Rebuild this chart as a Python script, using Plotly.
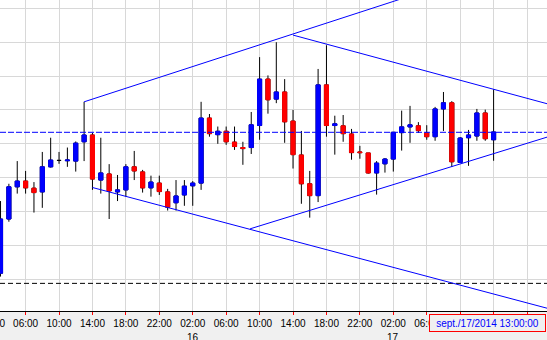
import plotly.graph_objects as go

# ---- data (hourly bars, 2014-09-15 03:00 .. 2014-09-17 14:00) ----
opens = [1.28818, 1.28978, 1.29073, 1.29090, 1.29069, 1.29058, 1.29132, 1.29151, 1.29150, 1.29149,
         1.29206, 1.29226, 1.29093, 1.29111, 1.29058, 1.29064, 1.29132, 1.29117, 1.29070, 1.29084,
         1.29058, 1.29026, 1.29049, 1.29076, 1.29084, 1.29276, 1.29227, 1.29237, 1.29205, 1.29189,
         1.29189, 1.29254, 1.29391, 1.29332, 1.29353, 1.29267, 1.29167, 1.29082, 1.29047, 1.29374,
         1.29254, 1.29253, 1.29229, 1.29176, 1.29173, 1.29114, 1.29141, 1.29155, 1.29233, 1.29250,
         1.29253, 1.29232, 1.29221, 1.29303, 1.29321, 1.29145, 1.29218, 1.29223, 1.29291, 1.29212]
highs = [1.29031, 1.29082, 1.29149, 1.29120, 1.29087, 1.29176, 1.29218, 1.29176, 1.29189, 1.29207,
         1.29324, 1.29232, 1.29218, 1.29140, 1.29108, 1.29140, 1.29179, 1.29123, 1.29106, 1.29106,
         1.29067, 1.29093, 1.29093, 1.29090, 1.29324, 1.29288, 1.29251, 1.29251, 1.29251, 1.29206,
         1.29294, 1.29456, 1.29402, 1.29500, 1.29391, 1.29300, 1.29238, 1.29120, 1.29421, 1.29491,
         1.29283, 1.29285, 1.29244, 1.29194, 1.29173, 1.29149, 1.29158, 1.29234, 1.29298, 1.29312,
         1.29264, 1.29255, 1.29309, 1.29353, 1.29326, 1.29220, 1.29241, 1.29303, 1.29301, 1.29361]
lows = [1.28808, 1.28970, 1.29053, 1.29053, 1.28997, 1.29011, 1.29130, 1.29141, 1.29132, 1.29118,
        1.29149, 1.29064, 1.29053, 1.28978, 1.29031, 1.29044, 1.29093, 1.29056, 1.29044, 1.29049,
        1.29003, 1.29003, 1.29017, 1.29017, 1.29064, 1.29221, 1.29200, 1.29197, 1.29182, 1.29138,
        1.29170, 1.29212, 1.29289, 1.29320, 1.29203, 1.29127, 1.29023, 1.28982, 1.29028, 1.29221,
        1.29168, 1.29206, 1.29153, 1.29156, 1.29112, 1.29050, 1.29115, 1.29118, 1.29180, 1.29203,
        1.29232, 1.29212, 1.29209, 1.29238, 1.29132, 1.29143, 1.29135, 1.29209, 1.29209, 1.29150]
closes = [1.28978, 1.29073, 1.29090, 1.29070, 1.29056, 1.29132, 1.29152, 1.29151, 1.29152, 1.29202,
          1.29226, 1.29096, 1.29114, 1.29061, 1.29064, 1.29132, 1.29120, 1.29070, 1.29087, 1.29059,
          1.29013, 1.29046, 1.29075, 1.29084, 1.29276, 1.29230, 1.29237, 1.29206, 1.29192, 1.29186,
          1.29256, 1.29391, 1.29330, 1.29353, 1.29265, 1.29168, 1.29082, 1.29047, 1.29374, 1.29254,
          1.29259, 1.29230, 1.29174, 1.29174, 1.29114, 1.29143, 1.29155, 1.29234, 1.29250, 1.29256,
          1.29239, 1.29221, 1.29303, 1.29321, 1.29147, 1.29217, 1.29226, 1.29291, 1.29215, 1.29235]

# tick positions (bar index); labels under the time cursor box are hidden in the original
tick_bars = [3, 7, 11, 15, 19, 23, 27, 31, 35, 39, 43, 47, 51, 55, 59, 63]
tick_labels = ["06:00", "10:00", "14:00", "18:00", "22:00", "02:00", "06:00", "10:00",
               "14:00", "18:00", "22:00", "02:00", "06:00", "", "", ""]
day_bars = [23, 47]
day_labels = ["16", "17"]
cursor_label = "sept./17/2014 13:00:00"

# trend lines: two anchors (bar, price), drawn as rays to the right
trend_lines = [
    ((10, 1.29324), (34.84, 1.29523)),
    ((35, 1.29521), (59, 1.29361)),
    ((11, 1.29071), (60, 1.28750)),
    ((29.86, 1.28949), (59, 1.29171)),
]
bid_level = 1.29234
low_level = 1.28788

BLUE = "#0000FF"
RED = "#FF0000"
GRID = "#d8d8d8"

x = list(range(len(opens)))
X_MIN, X_MAX = -0.063, 65.39
Y_MIN, Y_MAX = 1.287064, 1.296246

fig = go.Figure()

# wicks (black)
fig.add_trace(go.Candlestick(
    x=x, open=opens, high=highs, low=lows, close=closes,
    increasing=dict(line=dict(color="black", width=1), fillcolor="black"),
    decreasing=dict(line=dict(color="black", width=1), fillcolor="black"),
    whiskerwidth=0, hoverinfo="skip", showlegend=False))

# coloured bodies (skip exact dojis, which stay black)
bx, bo, bh, bl, bc = [], [], [], [], []
for i in x:
    if opens[i] != closes[i]:
        bx.append(i)
        bo.append(opens[i])
        bc.append(closes[i])
        bh.append(max(opens[i], closes[i]))
        bl.append(min(opens[i], closes[i]))
fig.add_trace(go.Candlestick(
    x=bx, open=bo, high=bh, low=bl, close=bc,
    increasing=dict(line=dict(color=BLUE, width=1), fillcolor=BLUE),
    decreasing=dict(line=dict(color=RED, width=1), fillcolor=RED),
    whiskerwidth=0, hoverinfo="skip", showlegend=False))

# horizontal levels
fig.add_trace(go.Scatter(x=[X_MIN, X_MAX], y=[bid_level, bid_level], mode="lines",
                         line=dict(color=BLUE, width=1, dash="6px,2px"),
                         hoverinfo="skip", showlegend=False))
fig.add_trace(go.Scatter(x=[X_MIN, X_MAX], y=[low_level, low_level], mode="lines",
                         line=dict(color="black", width=1, dash="5px,3px"),
                         hoverinfo="skip", showlegend=False))

# trend lines
for (x1, y1), (x2, y2) in trend_lines:
    slope = (y2 - y1) / (x2 - x1)
    xe = X_MAX + 1
    fig.add_trace(go.Scatter(x=[x1, xe], y=[y1, y1 + slope * (xe - x1)], mode="lines",
                             line=dict(color=BLUE, width=1),
                             hoverinfo="skip", showlegend=False))

annotations = []
for b, lab in zip(day_bars, day_labels):
    annotations.append(dict(x=b, y=-0.086, xref="x", yref="paper", text=lab, showarrow=False,
                            font=dict(family="Liberation Sans", size=10, color="black"),
                            xanchor="center", yanchor="middle"))
annotations.append(dict(x=-8 / 547, y=-0.04, xref="paper", yref="paper", text="02:00",
                        showarrow=False, xanchor="center", yanchor="middle",
                        font=dict(family="Liberation Sans", size=10, color="black")))
annotations.append(dict(x=487.5 / 547, y=-0.0386, xref="paper", yref="paper", text=cursor_label,
                        showarrow=False, xanchor="center", yanchor="middle",
                        width=113, height=14, borderpad=1, borderwidth=1,
                        bordercolor=RED, bgcolor="#f0f0f0",
                        font=dict(family="Liberation Sans", size=10, color=BLUE)))

fig.update_layout(
    width=547, height=340,
    margin=dict(l=0, r=0, t=0, b=29, pad=0),
    paper_bgcolor="#f0f0f0", plot_bgcolor="white",
    showlegend=False,
    boxgap=0.3, boxgroupgap=0.3,
    annotations=annotations,
    xaxis=dict(range=[X_MIN, X_MAX], rangeslider=dict(visible=False),
               tickmode="array", tickvals=tick_bars, ticktext=tick_labels,
               showgrid=True, gridcolor=GRID, gridwidth=1, zeroline=False,
               ticks="outside", ticklen=3, tickcolor=RED,
               showline=True, linecolor="black", linewidth=1,
               tickfont=dict(family="Liberation Sans", size=10, color="black"),
               fixedrange=True),
    yaxis=dict(range=[Y_MIN, Y_MAX], tick0=1.288, dtick=0.001,
               showgrid=True, gridcolor=GRID, gridwidth=1, zeroline=False,
               showticklabels=False, ticks="", showline=False, fixedrange=True),
)

fig.write_html("out.html", config={"displayModeBar": False})
